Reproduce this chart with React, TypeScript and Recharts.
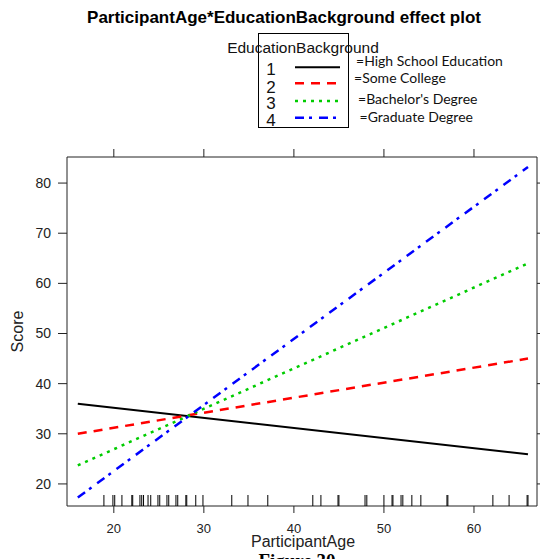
import React from 'react';
import { ComposedChart, Line, Scatter, XAxis, YAxis } from 'recharts';

// effect plot: predicted Score by ParticipantAge for each EducationBackground level

const AGES = [16, 66];
const HIGH_SCHOOL = [36.0, 25.9];
const SOME_COLLEGE = [30.0, 45.0];
const BACHELOR = [23.7, 64.0];
const GRADUATE = [17.3, 83.2];

const LEVEL_NAMES = ['High School Education', 'Some College', "Bachelor's Degree", 'Graduate Degree'];

// observed ages (rug along the bottom of the panel)
const RUG_AGES = [
  18.9, 19.9, 20.1, 20.9, 22.0, 22.1, 22.9, 23.1, 23.3, 23.8, 24.1, 24.9, 25.1,
  25.9, 26.1, 26.9, 27.1, 28.0, 28.1, 29.1, 29.9, 33.1, 34.9, 37.1, 42.1, 43.0,
  44.9, 45.0, 47.9, 48.1, 50.0, 50.9, 51.0, 51.9, 52.1, 53.1, 54.1, 57.0, 57.1,
  62.1, 63.9, 65.9, 66.0,
];

const X_TICKS = [20, 30, 40, 50, 60];
const Y_TICKS = [20, 30, 40, 50, 60, 70, 80];
const X_DOMAIN = [14.8, 67];
const Y_DOMAIN = [15.6, 85.2];

const W = 540;
const H = 559;

const toRows = (scores: number[]) => AGES.map((age, i) => ({ age, score: scores[i] }));

const SERIES = [
  { key: '1', rows: toRows(HIGH_SCHOOL), color: '#000000', width: 2, dash: undefined as string | undefined },
  { key: '2', rows: toRows(SOME_COLLEGE), color: '#ff0000', width: 2.5, dash: '9 7' },
  { key: '3', rows: toRows(BACHELOR), color: '#00cc00', width: 2.5, dash: '3 5' },
  { key: '4', rows: toRows(GRADUATE), color: '#0000ff', width: 2.5, dash: '9 5 3 7' },
];

const rugRows = RUG_AGES.map(age => ({ age, score: Y_DOMAIN[0] }));

const SANS = '"Liberation Sans", Arial, sans-serif';

function RugTick({ cx, cy }: { cx?: number; cy?: number }) {
  if (cx === undefined || cy === undefined) return null;
  return <line x1={cx} x2={cx} y1={cy - 11} y2={cy} stroke="#000" strokeWidth={1} />;
}

function Decorations() {
  const legendRows = [67.3, 83.3, 101, 117.7];
  const numBase = [75, 92.7, 109.3, 125.5];
  const labelBase = [66, 83.3, 104, 121.7];
  const labelX = [356, 354, 358, 359.5];
  return (
    <svg width={W} height={H} style={{ position: 'absolute', left: 0, top: 0, pointerEvents: 'none' }}>
      <text x={284} y={23} textAnchor="middle" fontFamily={SANS} fontWeight="bold" fontSize={17} fill="#000">
        ParticipantAge*EducationBackground effect plot
      </text>

      {/* key box */}
      <rect x={258.5} y={33.5} width={90} height={94} fill="none" stroke="#000" strokeWidth={1} />
      <text x={303} y={52.5} textAnchor="middle" fontFamily={SANS} fontSize={15.5} fill="#111">
        EducationBackground
      </text>
      {SERIES.map((s, i) => (
        <g key={s.key}>
          <text x={271} y={numBase[i]} textAnchor="middle" fontFamily={SANS} fontSize={17} fill="#111">
            {s.key}
          </text>
          <line x1={295} x2={340} y1={legendRows[i]} y2={legendRows[i]}
            stroke={s.color} strokeWidth={s.width} strokeDasharray={s.dash} />
          <text x={labelX[i]} y={labelBase[i]} fontFamily="Lato, sans-serif" fontSize={14} fill="#111">
            ={LEVEL_NAMES[i]}
          </text>
        </g>
      ))}

      <text x={17} y={331.5} transform="rotate(-90 17 331.5)" textAnchor="middle" dominantBaseline="central"
        fontFamily={SANS} fontSize={16} fill="#222">
        Score
      </text>
      <text x={303} y={546.5} textAnchor="middle" fontFamily={SANS} fontSize={16} fill="#222">
        ParticipantAge
      </text>
      <text x={297} y={567} textAnchor="middle" fontFamily='"Liberation Serif", "Times New Roman", serif'
        fontWeight="bold" fontSize={19} fill="#000">
        Figure 30
      </text>
    </svg>
  );
}

export default function App() {
  const tickStyle = { fontSize: 13, fill: '#222', fontFamily: SANS };
  const axisStroke = { stroke: '#222', strokeWidth: 1 };
  return (
    <div style={{ position: 'absolute', left: 0, top: 0, width: W, height: H, background: '#fff' }}>
      <ComposedChart width={W} height={H} margin={{ top: 147, right: 0, bottom: 0, left: 0 }}>
        <XAxis
          xAxisId="bottom" dataKey="age" type="number" domain={X_DOMAIN} allowDataOverflow
          ticks={X_TICKS} height={53} tickSize={7} tickMargin={11}
          tick={tickStyle} axisLine={axisStroke} tickLine={axisStroke}
        />
        <XAxis
          xAxisId="top" orientation="top" dataKey="age" type="number" domain={X_DOMAIN} allowDataOverflow
          ticks={X_TICKS} height={10} tickSize={8} tickFormatter={() => ''}
          axisLine={axisStroke} tickLine={axisStroke}
        />
        <YAxis
          yAxisId="left" dataKey="score" type="number" domain={Y_DOMAIN} allowDataOverflow
          ticks={Y_TICKS} width={67} tickSize={9} tickMargin={7}
          tick={{ ...tickStyle, fontSize: 14 }} axisLine={axisStroke} tickLine={axisStroke}
        />
        <YAxis
          yAxisId="right" orientation="right" type="number" domain={Y_DOMAIN} allowDataOverflow
          ticks={Y_TICKS} width={3} tickSize={5} tickFormatter={() => ''}
          axisLine={axisStroke} tickLine={axisStroke}
        />

        <Scatter
          xAxisId="bottom" yAxisId="left" data={rugRows} dataKey="score"
          shape={<RugTick />} isAnimationActive={false}
        />

        {SERIES.map(s => (
          <Line
            key={s.key} xAxisId="bottom" yAxisId="left" data={s.rows} dataKey="score"
            type="linear" stroke={s.color} strokeWidth={s.width} strokeDasharray={s.dash}
            dot={false} activeDot={false} isAnimationActive={false}
          />
        ))}
      </ComposedChart>
      <Decorations />
    </div>
  );
}
